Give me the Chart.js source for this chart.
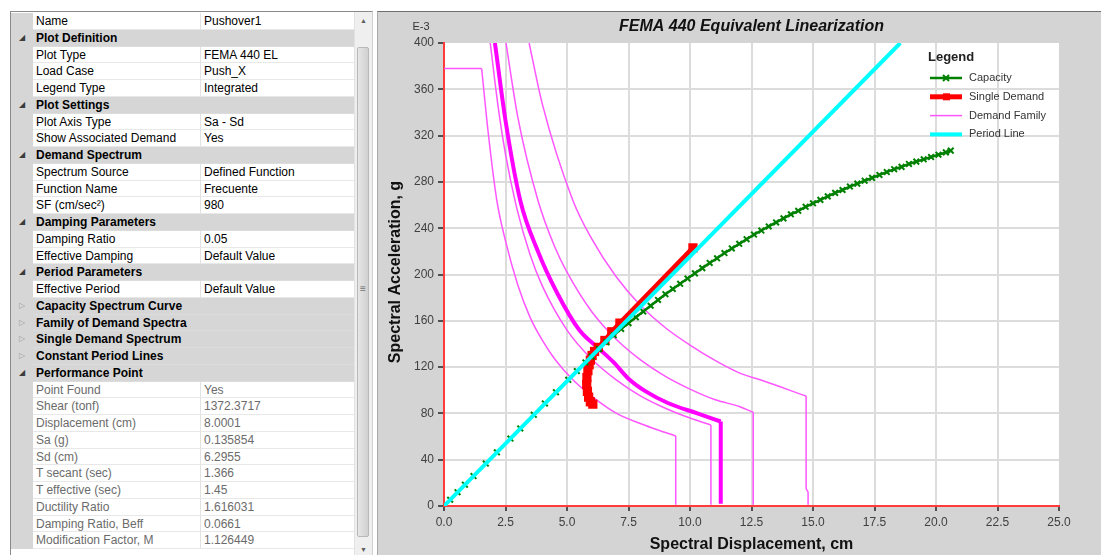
<!DOCTYPE html>
<html>
<head>
<meta charset="utf-8">
<script src="https://cdn.jsdelivr.net/npm/chart.js@4.4.1/dist/chart.umd.min.js"></script>
<style>
  html, body { margin: 0; padding: 0; background: #fff; }
  body { width: 1101px; height: 555px; position: relative; overflow: hidden; }
  #panel { position: absolute; left: 377px; top: 11px; width: 724px; height: 544px;
           background: #d4d4d4; border-top: 1px solid #6e6e6e; border-left: 1px solid #a8a8a8; box-sizing: border-box; }
  #chart { position: absolute; left: 0; top: 0; }
  #grid { position: absolute; left: 10px; top: 11px; width: 363px; height: 544px; box-sizing: border-box;
          border-left: 1px solid #8a8a8a; border-top: 1px solid #8a8a8a; border-right: 1px solid #d0d0d0;
          background: #fff; font: 12px "Liberation Sans", Arial, sans-serif; color: #000; overflow: hidden; }
  #rows { position: absolute; left: 0; top: 1px; width: 344px; }
  .row { display: flex; height: 16.75px; line-height: 16px; white-space: nowrap; }
  .g { width: 22px; flex: none; background: #d6d6d6; font-size: 8px; text-align: center; color: #3c3c3c; }
  .g.c { color: #a0a0a0; }
  .n { width: 168px; flex: none; box-sizing: border-box; padding-left: 3px; overflow: hidden;
       border-right: 1px solid #e2e2e2; border-bottom: 1px solid #e8e8e8; }
  .v { width: 154px; flex: none; box-sizing: border-box; padding-left: 3px; overflow: hidden;
       border-bottom: 1px solid #e8e8e8; }
  .cat .t { width: 322px; flex: none; box-sizing: border-box; padding-left: 3px; background: #d6d6d6;
            font-weight: bold; border-bottom: 1px solid #dcdcdc; }
  .ro { color: #6b6b6b; }
  #sb { position: absolute; right: 0; top: 0; width: 17px; height: 100%; background: #efefef; border-left: 1px solid #e2e2e2; }
  #sb .up, #sb .dn { position: absolute; left: 0; width: 17px; text-align: center; font-size: 7px; color: #606060; }
  #sb .up { top: 5px; }
  #sb .dn { bottom: 2px; }
  #sb .th { position: absolute; left: 2px; width: 12px; top: 35px; height: 490px; box-sizing: border-box;
            background: linear-gradient(to right, #e6e6e6, #d0d0d0); border: 1px solid #b8b8b8; border-radius: 2px; }
  #sb .grip { position: absolute; left: 0; width: 10px; top: 236px; text-align: center; font-size: 10px; color: #707070; line-height: 10px; }
</style>
</head>
<body>
<div id="panel"></div>
<canvas id="chart" width="1101" height="555"></canvas>

<div id="grid">
  <div id="rows">
    <div class="row"><div class="g"></div><div class="n">Name</div><div class="v">Pushover1</div></div>
    <div class="row cat"><div class="g">&#9698;</div><div class="t">Plot Definition</div></div>
    <div class="row"><div class="g"></div><div class="n">Plot Type</div><div class="v">FEMA 440 EL</div></div>
    <div class="row"><div class="g"></div><div class="n">Load Case</div><div class="v">Push_X</div></div>
    <div class="row"><div class="g"></div><div class="n">Legend Type</div><div class="v">Integrated</div></div>
    <div class="row cat"><div class="g">&#9698;</div><div class="t">Plot Settings</div></div>
    <div class="row"><div class="g"></div><div class="n">Plot Axis Type</div><div class="v">Sa - Sd</div></div>
    <div class="row"><div class="g"></div><div class="n">Show Associated Demand</div><div class="v">Yes</div></div>
    <div class="row cat"><div class="g">&#9698;</div><div class="t">Demand Spectrum</div></div>
    <div class="row"><div class="g"></div><div class="n">Spectrum Source</div><div class="v">Defined Function</div></div>
    <div class="row"><div class="g"></div><div class="n">Function Name</div><div class="v">Frecuente</div></div>
    <div class="row"><div class="g"></div><div class="n">SF (cm/sec²)</div><div class="v">980</div></div>
    <div class="row cat"><div class="g">&#9698;</div><div class="t">Damping Parameters</div></div>
    <div class="row"><div class="g"></div><div class="n">Damping Ratio</div><div class="v">0.05</div></div>
    <div class="row"><div class="g"></div><div class="n">Effective Damping</div><div class="v">Default Value</div></div>
    <div class="row cat"><div class="g">&#9698;</div><div class="t">Period Parameters</div></div>
    <div class="row"><div class="g"></div><div class="n">Effective Period</div><div class="v">Default Value</div></div>
    <div class="row cat"><div class="g c">&#9655;</div><div class="t">Capacity Spectrum Curve</div></div>
    <div class="row cat"><div class="g c">&#9655;</div><div class="t">Family of Demand Spectra</div></div>
    <div class="row cat"><div class="g c">&#9655;</div><div class="t">Single Demand Spectrum</div></div>
    <div class="row cat"><div class="g c">&#9655;</div><div class="t">Constant Period Lines</div></div>
    <div class="row cat"><div class="g">&#9698;</div><div class="t">Performance Point</div></div>
    <div class="row ro"><div class="g"></div><div class="n">Point Found</div><div class="v">Yes</div></div>
    <div class="row ro"><div class="g"></div><div class="n">Shear (tonf)</div><div class="v">1372.3717</div></div>
    <div class="row ro"><div class="g"></div><div class="n">Displacement (cm)</div><div class="v">8.0001</div></div>
    <div class="row ro"><div class="g"></div><div class="n">Sa (g)</div><div class="v">0.135854</div></div>
    <div class="row ro"><div class="g"></div><div class="n">Sd (cm)</div><div class="v">6.2955</div></div>
    <div class="row ro"><div class="g"></div><div class="n">T secant (sec)</div><div class="v">1.366</div></div>
    <div class="row ro"><div class="g"></div><div class="n">T effective (sec)</div><div class="v">1.45</div></div>
    <div class="row ro"><div class="g"></div><div class="n">Ductility Ratio</div><div class="v">1.616031</div></div>
    <div class="row ro"><div class="g"></div><div class="n">Damping Ratio, Beff</div><div class="v">0.0661</div></div>
    <div class="row ro"><div class="g"></div><div class="n">Modification Factor, M</div><div class="v">1.126449</div></div>
  </div>
  <div id="sb">
    <div class="up">&#9650;</div>
    <div class="th"><div class="grip">&#8801;</div></div>
    <div class="dn">&#9660;</div>
  </div>
</div>

<script>
// Sd in cm, Sa in g x 1E-3
const periodSd = [0, 18.55];
const periodSa = [0, 400];

const capacitySd = [0, 0.25, 0.55, 0.85, 1.2, 1.7, 2.15, 2.7, 3.1, 3.65, 4.1, 4.55, 5.05, 5.4, 5.75,
  6.0, 6.3, 6.6, 6.9, 7.2, 7.5, 7.8, 8.1, 8.4, 8.7,
  9.0, 9.3, 9.6, 9.9, 10.2, 10.5, 10.8, 11.1, 11.4, 11.7,
  12.0, 12.3, 12.6, 12.9, 13.2, 13.5, 13.8, 14.1, 14.4, 14.7,
  15.0, 15.3, 15.6, 15.9, 16.2, 16.5, 16.8, 17.1, 17.4, 17.7,
  18.0, 18.3, 18.6, 18.9, 19.2, 19.5, 19.8, 20.1, 20.4, 20.6];
const capacitySa = [0, 5.4, 11.9, 18.4, 25.9, 36.7, 46.4, 58.3, 67.0, 78.8, 88.6, 98.3, 109.0, 116.6, 124.0,
  129, 135.5, 141.5, 147.5, 153, 158, 163, 168, 173, 178,
  183, 187.5, 192, 196.5, 201, 205.5, 210, 214, 218.5, 222.5,
  226.5, 230.5, 234.5, 238, 241.5, 245, 248.5, 252, 255, 258.5,
  261.5, 264.5, 267.5, 270.5, 273, 276, 278.5, 281, 283.5, 286,
  288.5, 291, 293, 295.5, 297.5, 299.5, 301.5, 303.5, 305.5, 307];

const singleSd = [6.05, 5.95, 5.88, 5.83, 5.8, 5.81, 5.85, 5.9, 5.95, 6.02, 6.12, 6.27, 6.54, 6.82, 7.15, 10.12];
const singleSa = [88, 90, 94, 99, 105, 111, 117, 122, 126, 130, 133.5, 137, 143, 150.5, 158, 223];

// demand family (curve part, then the vertical drop at the end)
const mainSd = [2.07, 2.5, 3.1, 3.8, 4.6, 5.5, 6.3, 6.9, 7.5, 8.2, 9.1, 10.3, 11.25];
const mainSa = [400, 333, 264, 221, 184, 152, 136, 124, 110, 99, 89, 80, 73];
const mainDropSa = [73, 2];

const famDPlateauSd = [0, 1.53];
const famDSd = [1.53, 1.8, 2.14, 2.5, 3.0, 3.5, 4.0, 4.5, 5.24, 6.0, 7.02, 8.0, 9.0, 9.42];
const famDSa = [378, 322, 265, 229, 191, 163, 143, 127, 109, 95, 80, 71, 63.5, 60.5];
const famDDropSa = [60.5, 1];

const famASd = [1.88, 2.2, 2.5, 2.95, 3.5, 4.0, 5.0, 6.0, 7.0, 8.0, 9.0, 10.0, 10.85];
const famASa = [400, 345, 304, 258, 217, 190, 152, 127, 109, 95, 84.5, 76, 70];
const famADropSa = [70, 1];

const famBSd = [2.52, 3.0, 3.82, 4.5, 5.0, 6.0, 7.0, 8.0, 9.0, 10.0, 11.0, 12.03, 12.57];
const famBSa = [400, 336, 264, 224, 202, 168, 144, 126, 112, 101, 92, 85.8, 81];
const famBDropSa = [81, 1];

const famCSd = [3.46, 4.0, 5.24, 6.0, 7.0, 8.0, 9.0, 10.0, 11.0, 12.0, 12.85, 14.72];
const famCSa = [400, 347, 264, 231, 198, 173, 154, 139, 126, 115, 109, 95];
const famCDropSd = [14.72, 14.72, 14.8, 14.8];
const famCDropSa = [95, 15, 12, 1];

const legendNames = ['Capacity', 'Single Demand', 'Demand Family', 'Period Line'];

const FONT = '"Liberation Sans", Arial, sans-serif';
const familyPink = '#ff55ff';

function pts(xs, ys) {
  return xs.map((x, i) => ({ x: x, y: ys[i] }));
}

function lastOf(a) { return a[a.length - 1]; }

function family(xs, ys, smooth, thick) {
  return { label: thick ? 'Demand Spectrum' : 'Demand Family', data: pts(xs, ys),
           borderColor: thick ? '#ff00ff' : familyPink, borderWidth: thick ? 4 : 1.5,
           pointRadius: 0, showLine: true, order: 3,
           cubicInterpolationMode: smooth ? 'monotone' : 'default' };
}

const panelText = {
  id: 'panelText',
  beforeDraw(chart) {
    const ctx = chart.ctx, a = chart.chartArea;
    ctx.save();
    ctx.fillStyle = '#fff';
    ctx.fillRect(a.left, a.top, a.right - a.left, a.bottom - a.top);
    ctx.restore();
  },
  afterDraw(chart) {
    const ctx = chart.ctx, a = chart.chartArea;
    const cx = (a.left + a.right) / 2;
    ctx.save();
    ctx.textBaseline = 'middle';
    ctx.textAlign = 'center';
    ctx.fillStyle = '#111';
    ctx.font = 'italic bold 16px ' + FONT;
    ctx.fillText('FEMA 440 Equivalent Linearization', cx, 27);

    ctx.font = '11px ' + FONT;
    ctx.fillStyle = '#333';
    ctx.fillText('E-3', a.left - 23, 27);

    ctx.fillStyle = '#111';
    ctx.font = 'bold 16px ' + FONT;
    ctx.fillText('Spectral Displacement, cm', cx, 545);
    ctx.save();
    ctx.translate(396, 272);
    ctx.rotate(-Math.PI / 2);
    ctx.fillText('Spectral Acceleration, g', 0, 0);
    ctx.restore();

    // legend
    ctx.textAlign = 'left';
    ctx.font = 'bold 13px ' + FONT;
    ctx.fillStyle = '#222';
    ctx.fillText('Legend', 928, 57);
    ctx.font = '11px ' + FONT;
    legendNames.forEach((name, i) => {
      const ds = chart.data.datasets.find(d => d.label === name);
      const y = 78 + i * 18.8;
      ctx.strokeStyle = ds.borderColor;
      ctx.lineWidth = ds.borderWidth;
      ctx.beginPath();
      ctx.moveTo(930, y);
      ctx.lineTo(962, y);
      ctx.stroke();
      if (ds.pointRadius > 0) {
        ctx.lineWidth = 2;
        if (ds.pointStyle === 'rect') {
          ctx.fillStyle = ds.borderColor;
          ctx.fillRect(943, y - 3.5, 7, 7);
        } else {
          ctx.beginPath();
          ctx.moveTo(943, y - 3); ctx.lineTo(949, y + 3);
          ctx.moveTo(949, y - 3); ctx.lineTo(943, y + 3);
          ctx.stroke();
        }
      }
      ctx.fillStyle = '#333';
      ctx.fillText(name, 969, y);
    });
    ctx.restore();
  }
};

new Chart(document.getElementById('chart'), {
  type: 'scatter',
  data: {
    datasets: [
      { label: 'Period Line', data: pts(periodSd, periodSa), borderColor: '#00ffff', borderWidth: 4,
        pointRadius: 0, showLine: true, order: 0 },
      { label: 'Capacity', data: pts(capacitySd, capacitySa), borderColor: '#008000', borderWidth: 2.5,
        pointStyle: 'crossRot', pointRadius: 4, pointBorderColor: '#008000', pointBorderWidth: 2,
        showLine: true, order: 1 },
      { label: 'Single Demand', data: pts(singleSd, singleSa), borderColor: '#ff0000', borderWidth: 5,
        pointStyle: 'rect', pointRadius: 3, pointBackgroundColor: '#ff0000', pointBorderColor: '#ff0000',
        showLine: true, order: 2 },
      family(mainSd, mainSa, true, true),
      family([lastOf(mainSd), lastOf(mainSd)], mainDropSa, false, true),
      family(famDPlateauSd, [378, 378]),
      family(famDSd, famDSa, true),
      family([lastOf(famDSd), lastOf(famDSd)], famDDropSa),
      family(famASd, famASa, true),
      family([lastOf(famASd), lastOf(famASd)], famADropSa),
      family(famBSd, famBSa, true),
      family([lastOf(famBSd), lastOf(famBSd)], famBDropSa),
      family(famCSd, famCSa, true),
      family(famCDropSd, famCDropSa)
    ]
  },
  options: {
    responsive: false,
    animation: false,
    events: [],
    layout: { padding: { left: 404, right: 42, top: 43, bottom: 0 } },
    plugins: { legend: { display: false }, tooltip: { enabled: false }, title: { display: false } },
    scales: {
      x: {
        type: 'linear', min: 0, max: 25,
        ticks: { stepSize: 2.5, padding: 4, color: '#404040', font: { family: FONT, size: 12 },
                 callback: v => v.toFixed(1) },
        grid: { color: ctx => ctx.tick && ctx.tick.value === 25 ? 'rgba(0,0,0,0)' : '#dcdcdc',
                lineWidth: 2, tickLength: 5, tickColor: '#505050' },
        border: { color: '#ff3b3b', width: 2 },
        afterFit: s => { s.height = 49; }
      },
      y: {
        type: 'linear', min: 0, max: 400,
        ticks: { stepSize: 40, padding: 4, color: '#404040', font: { family: FONT, size: 12 } },
        grid: { color: ctx => ctx.tick && ctx.tick.value === 400 ? 'rgba(0,0,0,0)' : '#dcdcdc',
                lineWidth: 2, tickLength: 6, tickColor: '#505050' },
        border: { color: '#ff3b3b', width: 2 },
        afterFit: s => { s.width = 40; }
      }
    }
  },
  plugins: [panelText]
});
</script>
</body>
</html>
